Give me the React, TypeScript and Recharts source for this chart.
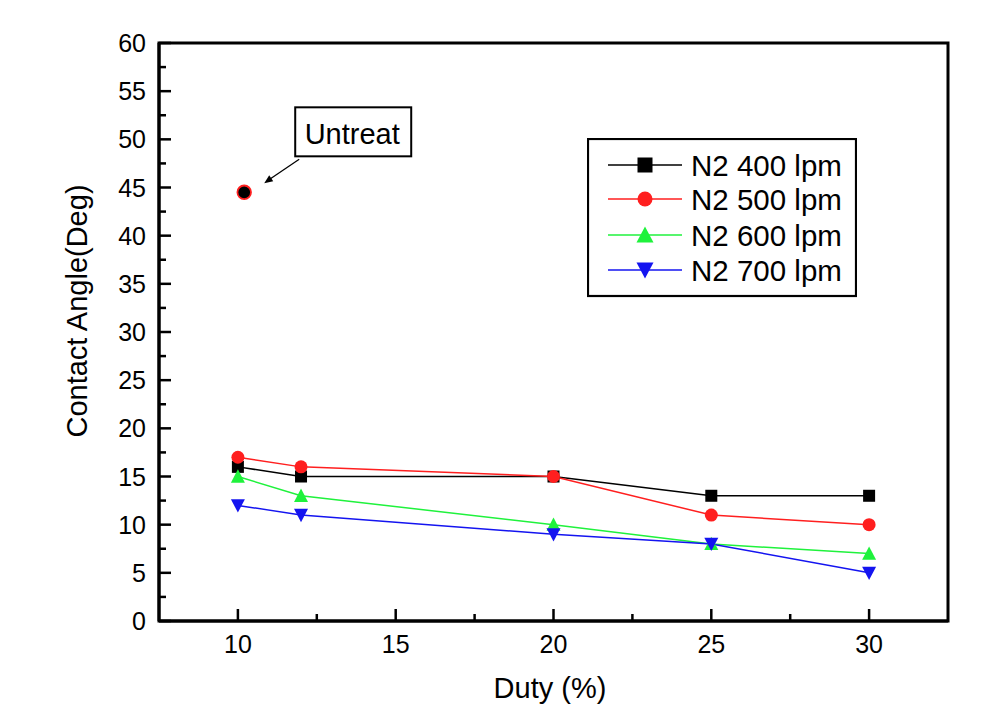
import React from "react";
import {
  ComposedChart,
  Line,
  Scatter,
  XAxis,
  YAxis,
  Legend,
  ReferenceArea,
  Label,
} from "recharts";

const duty = [10, 12, 20, 25, 30];
const n2_400 = [16, 15, 15, 13, 13];
const n2_500 = [17, 16, 15, 11, 10];
const n2_600 = [15, 13, 10, 8, 7];
const n2_700 = [12, 11, 9, 8, 5];
const untreated = [{ duty: 10.2, angle: 44.5 }];

const xTicks = [10, 12.5, 15, 17.5, 20, 22.5, 25, 27.5, 30];
const yTicks = [
  0, 2.5, 5, 7.5, 10, 12.5, 15, 17.5, 20, 22.5, 25, 27.5, 30, 32.5, 35, 37.5, 40,
  42.5, 45, 47.5, 50, 52.5, 55, 57.5, 60,
];

const FONT = "'Liberation Sans', Arial, sans-serif";

type Marker = "square" | "circle" | "up" | "down";

const SERIES: { key: string; name: string; values: number[]; color: string; marker: Marker }[] = [
  { key: "s400", name: "N2 400 lpm", values: n2_400, color: "#000000", marker: "square" },
  { key: "s500", name: "N2 500 lpm", values: n2_500, color: "#ff1f1f", marker: "circle" },
  { key: "s600", name: "N2 600 lpm", values: n2_600, color: "#1ff23c", marker: "up" },
  { key: "s700", name: "N2 700 lpm", values: n2_700, color: "#1414f0", marker: "down" },
];

const data = duty.map((d, i) => {
  const row: Record<string, number> = { duty: d };
  SERIES.forEach((s) => (row[s.key] = s.values[i]));
  return row;
});

function drawMarker(kind: Marker, cx: number, cy: number, size: number, color: string, key?: string) {
  const h = size / 2;
  if (kind === "square")
    return <rect key={key} x={cx - h} y={cy - h} width={size} height={size} fill={color} />;
  if (kind === "circle") return <circle key={key} cx={cx} cy={cy} r={h} fill={color} />;
  const th = size * 0.88;
  if (kind === "up")
    return (
      <polygon
        key={key}
        points={`${cx},${cy - th / 2 - 1} ${cx - h},${cy + th / 2} ${cx + h},${cy + th / 2}`}
        fill={color}
      />
    );
  return (
    <polygon
      key={key}
      points={`${cx - h},${cy - th / 2} ${cx + h},${cy - th / 2} ${cx},${cy + th / 2 + 1}`}
      fill={color}
    />
  );
}

function markerSize(kind: Marker, big: boolean) {
  if (kind === "square") return big ? 15 : 12;
  if (kind === "circle") return big ? 15 : 13;
  return big ? 17 : 14;
}

function XTick(props: any) {
  const { x, y, payload } = props;
  const major = payload.value % 5 === 0;
  return (
    <g>
      <line x1={x} x2={x} y1={y} y2={y - (major ? 12 : 7)} stroke="#000" strokeWidth={2.5} />
      {major && (
        <text x={x} y={y + 32} textAnchor="middle" fontSize={25} fontFamily={FONT} fill="#000">
          {payload.value}
        </text>
      )}
    </g>
  );
}

function YTick(props: any) {
  const { x, y, payload } = props;
  const major = payload.value % 5 === 0;
  return (
    <g>
      <line x1={x} x2={x + (major ? 12 : 7)} y1={y} y2={y} stroke="#000" strokeWidth={2.5} />
      {major && (
        <text x={x - 13} y={y + 9} textAnchor="end" fontSize={25} fontFamily={FONT} fill="#000">
          {payload.value}
        </text>
      )}
    </g>
  );
}

function UntreatShape(props: any) {
  const { cx, cy } = props;
  return (
    <g>
      <line x1={cx + 55} y1={cy - 33} x2={cx + 24} y2={cy - 12} stroke="#000" strokeWidth={1.3} />
      <polygon
        points={`${cx + 20},${cy - 9} ${cx + 29},${cy - 11} ${cx + 25},${cy - 17}`}
        fill="#000"
      />
      <rect x={cx + 51} y={cy - 85} width={116} height={49} fill="#fff" stroke="#000" strokeWidth={2} />
      <text x={cx + 108} y={cy - 48} textAnchor="middle" fontSize={29} fontFamily={FONT} fill="#000">
        Untreat
      </text>
      <circle cx={cx} cy={cy} r={6.8} fill="#000" stroke="#ff1f1f" strokeWidth={1.8} />
    </g>
  );
}

function LegendBox() {
  const rows = [27, 61, 97, 132];
  return (
    <svg width={270} height={160} style={{ display: "block" }}>
      <rect x={1} y={1} width={268} height={157} fill="#fff" stroke="#000" strokeWidth={2.2} />
      {SERIES.map((s, i) => (
        <g key={s.key}>
          <line x1={21} x2={95} y1={rows[i]} y2={rows[i]} stroke={s.color} strokeWidth={1.3} />
          {drawMarker(s.marker, 58, rows[i], markerSize(s.marker, true), s.color)}
          <text x={104} y={rows[i] + 10.5} fontSize={29.5} fontFamily={FONT} fill="#000">
            {s.name}
          </text>
        </g>
      ))}
    </svg>
  );
}

export default function App() {
  return (
    <div style={{ position: "absolute", left: 0, top: 0, width: 997, height: 717, background: "#fff" }}>
      <ComposedChart
        width={997}
        height={717}
        data={data}
        margin={{ top: 43, right: 49, bottom: 66, left: 99 }}
      >
        <XAxis
          dataKey="duty"
          type="number"
          domain={[7.5, 32.5]}
          ticks={xTicks}
          interval={0}
          allowDataOverflow
          height={30}
          tickLine={false}
          tickSize={0}
          tickMargin={0}
          axisLine={{ stroke: "#000", strokeWidth: 3 }}
          tick={(p: any) => <XTick {...p} />}
        >
          <Label
            content={() => (
              <text
                x={550}
                y={698}
                textAnchor="middle"
                fontSize={29}
                fontFamily={FONT}
                fill="#000"
              >
                Duty (%)
              </text>
            )}
          />
        </XAxis>
        <YAxis
          type="number"
          domain={[0, 60]}
          ticks={yTicks}
          interval={0}
          allowDataOverflow
          width={60}
          tickLine={false}
          tickSize={0}
          tickMargin={0}
          axisLine={{ stroke: "#000", strokeWidth: 3 }}
          tick={(p: any) => <YTick {...p} />}
        >
          <Label
            content={() => (
              <text
                x={87}
                y={311}
                transform="rotate(-90 87 311)"
                textAnchor="middle"
                fontSize={29}
                fontFamily={FONT}
                fill="#000"
              >
                Contact Angle(Deg)
              </text>
            )}
          />
        </YAxis>
        <ReferenceArea
          x1={7.5}
          x2={32.5}
          y1={0}
          y2={60}
          fill="none"
          fillOpacity={0}
          stroke="#000"
          strokeWidth={3}
        />
        {SERIES.map((s) => (
          <Line
            key={s.key}
            dataKey={s.key}
            name={s.name}
            stroke={s.color}
            strokeWidth={1.5}
            isAnimationActive={false}
            dot={(p: any) =>
              drawMarker(s.marker, p.cx, p.cy, markerSize(s.marker, false), s.color, `${s.key}-${p.index}`)
            }
            activeDot={false}
          />
        ))}
        <Scatter
          data={untreated}
          dataKey="angle"
          isAnimationActive={false}
          shape={(p: any) => <UntreatShape {...p} />}
        />
        <Legend
          layout="vertical"
          align="center"
          verticalAlign="middle"
          wrapperStyle={{ left: 587, top: 138, width: 270, height: 160 }}
          content={() => <LegendBox />}
        />
      </ComposedChart>
    </div>
  );
}
